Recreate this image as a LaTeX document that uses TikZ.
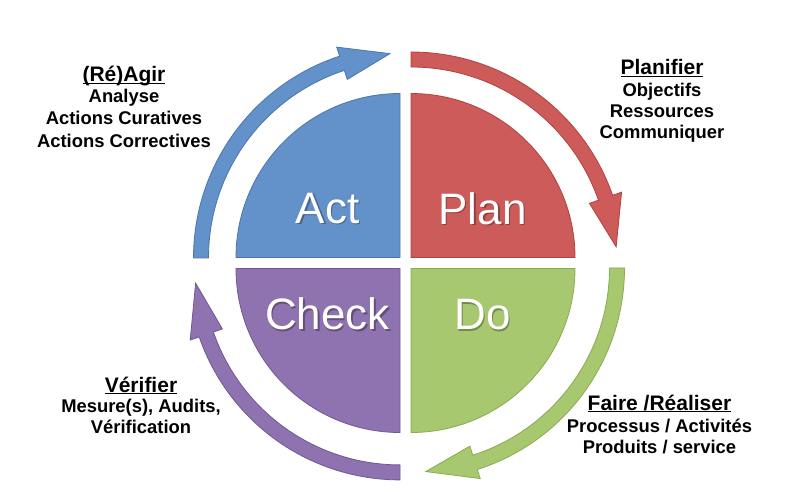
\documentclass[tikz,border=0pt]{standalone}
\usepackage{fontspec}
\setmainfont{Liberation Sans}
\usetikzlibrary{calc}
\definecolor{actF}{RGB}{99,145,201}
\definecolor{actL}{RGB}{74,118,172}
\definecolor{planF}{RGB}{205,91,90}
\definecolor{planL}{RGB}{176,66,64}
\definecolor{doF}{RGB}{167,200,111}
\definecolor{doL}{RGB}{138,170,84}
\definecolor{checkF}{RGB}{142,115,176}
\definecolor{checkL}{RGB}{112,88,146}
\newcommand\ulthis[1]{\setbox0\hbox{#1}\rlap{\rule[-2.4pt]{\wd0}{1.4pt}}\box0}
\newcommand\cycarrow[6]{%
  \filldraw[#6] ($(#1)+(#3:{#2pt+7.5pt})$) arc[start angle=#3, end angle=#4, radius={#2pt+7.5pt}]
   -- ($(#1)+(#4:{#2pt+17pt})$) -- ($(#1)+(#5:{#2pt})$) -- ($(#1)+(#4:{#2pt-17pt})$)
   -- ($(#1)+(#4:{#2pt-7.5pt})$) arc[start angle=#4, end angle=#3, radius={#2pt-7.5pt}] -- cycle;}
\tikzset{
  quad/.style={line width=0.8pt},
  big/.style={text=white, font=\fontsize{44}{50}\selectfont, anchor=base, inner sep=0pt},
  bigshadow/.style={text=black, opacity=0.3, font=\fontsize{44}{50}\selectfont, anchor=base, inner sep=0pt},
  ttl/.style={font=\bfseries\fontsize{21}{25}\selectfont, anchor=base, inner sep=0pt},
  body/.style={font=\bfseries\fontsize{18.4}{22}\selectfont, anchor=base, inner sep=0pt}
}
\begin{document}
\begin{tikzpicture}[x=1pt,y=1pt]
\useasboundingbox (0,0) rectangle (806,496);
\fill[white] (0,0) rectangle (806,496);
% quadrant corners
\coordinate (cA) at (400,238.5);
\coordinate (cP) at (411,238.5);
\coordinate (cC) at (400,227.5);
\coordinate (cD) at (411,227.5);
\filldraw[quad, fill=actF, draw=actL] (cA) -- ++(-164,0) arc[start angle=180, end angle=90, radius=164] -- cycle;
\filldraw[quad, fill=planF, draw=planL] (cP) -- ++(0,164) arc[start angle=90, end angle=0, radius=164] -- cycle;
\filldraw[quad, fill=checkF, draw=checkL] (cC) -- ++(0,-164) arc[start angle=270, end angle=180, radius=164] -- cycle;
\filldraw[quad, fill=doF, draw=doL] (cD) -- ++(164,0) arc[start angle=0, end angle=-90, radius=164] -- cycle;
% arrow centres
\coordinate (aB) at (406,238);
\coordinate (aR) at (411,230.5);
\coordinate (aG) at (413,228);
\coordinate (aV) at (400,228.6);
\cycarrow{aB}{205}{180}{108.2}{94.5}{quad, fill=actF, draw=actL}
\cycarrow{aR}{206}{90}{19.2}{5.2}{quad, fill=planF, draw=planL}
\cycarrow{aG}{204}{0}{-72.3}{-86.4}{quad, fill=doF, draw=doL}
\cycarrow{aV}{205}{270}{199.1}{184.4}{quad, fill=checkF, draw=checkL}
% quadrant labels
\node[bigshadow] (actS) at (329,271) {Act};
\node[big] (act) at (327.5,272.5) {Act};
\node[bigshadow] (planS) at (484,270) {Plan};
\node[big] (plan) at (482.5,271.5) {Plan};
\node[bigshadow] (checkS) at (329,165) {Check};
\node[big] (check) at (327.5,166.5) {Check};
\node[bigshadow] (doS) at (484,165) {Do};
\node[big] (do) at (482.5,166.5) {Do};
% top left
\node[ttl] (agir) at (124,414) {\ulthis{(Ré)Agir}};
\node[body] (agir1) at (124,393) {Analyse};
\node[body] (agir2) at (124,371) {Actions Curatives};
\node[body] (agir3) at (124,348.5) {Actions Correctives};
% top right
\node[ttl] (plani) at (662,421) {\ulthis{Planifier}};
\node[body] (plani1) at (662,399.5) {Objectifs};
\node[body] (plani2) at (662,378.5) {Ressources};
\node[body] (plani3) at (662,357.5) {Communiquer};
% bottom left
\node[ttl] (verif) at (141,104) {\ulthis{Vérifier}};
\node[body] (verif1) at (141,83.5) {Mesure(s), Audits,};
\node[body] (verif2) at (141,63) {Vérification};
% bottom right
\node[ttl] (faire) at (659.5,86) {\ulthis{Faire /Réaliser}};
\node[body] (faire1) at (659.5,64) {Processus / Activités};
\node[body] (faire2) at (659.5,43) {Produits / service};
\end{tikzpicture}
\end{document}
